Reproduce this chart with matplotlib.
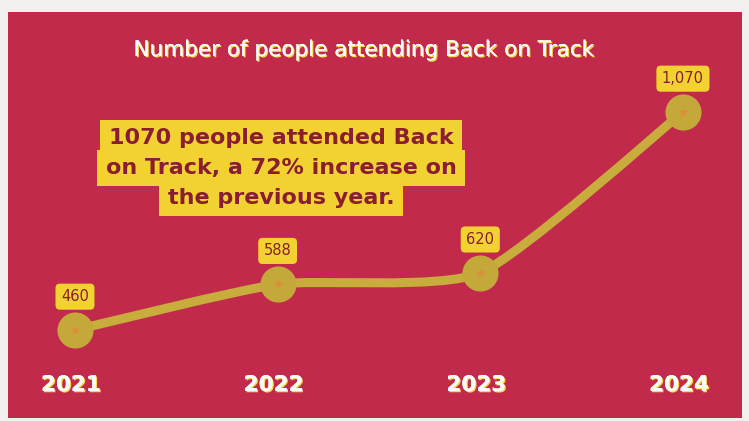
#!/usr/bin/env python3
"""Attendance line chart for Back on Track, 2021-2024."""

import matplotlib

matplotlib.use("Agg")
import matplotlib.pyplot as plt
import matplotlib.patheffects as pe
import numpy as np
from matplotlib.path import Path
from matplotlib.patches import PathPatch, Rectangle

YEARS = [2021, 2022, 2023, 2024]
ATTENDANCE = [460, 588, 620, 1070]
VALUE_LABELS = ["460", "588", "620", "1,070"]

TITLE = "Number of people attending Back on Track"
CALLOUT_LINES = [
    "1070 people attended Back",
    "on Track, a 72% increase on",
    "the previous year.",
]

RED = "#C22A4C"
YELLOW = "#F2D230"
OLIVE = "#C8AC3C"
MAROON = "#8A1D30"
FONT = ["DejaVu Sans"]


def smooth_path(xs, ys, k=0.1):
    # catmull-rom style bezier through the data points
    pts = np.column_stack([xs, ys]).astype(float)
    n = len(pts)
    verts = [pts[0]]
    codes = [Path.MOVETO]
    for i in range(n - 1):
        p_prev = pts[max(i - 1, 0)]
        p0 = pts[i]
        p1 = pts[i + 1]
        p_next = pts[min(i + 2, n - 1)]
        c1 = p0 + (p1 - p_prev) * k
        c2 = p1 - (p_next - p0) * k
        verts += [c1, c2, p1]
        codes += [Path.CURVE4] * 3
    return Path(verts, codes)


def main():
    fig = plt.figure(figsize=(7.49, 4.21), dpi=100)
    fig.patch.set_facecolor("#F3F1EE")
    ax = fig.add_axes([0, 0, 1, 1])
    ax.set_xlim(2020.630, 2024.326)
    ax.set_ylim(205.4, 1383.4)
    ax.axis("off")

    ax.add_patch(Rectangle((8 / 749, 3 / 421), 734 / 749, 406 / 421,
                           transform=ax.transAxes, facecolor=RED,
                           edgecolor="none", zorder=0))

    glow = [pe.withSimplePatchShadow(offset=(0.9, -0.9), shadow_rgbFace="#F5DC4A", alpha=1.0),
            pe.Normal()]

    ax.text(364 / 749, 1 - 50 / 421, TITLE, transform=ax.transAxes,
            ha="center", va="center", fontsize=15.5, color="white",
            family=FONT, path_effects=glow)

    line = PathPatch(smooth_path(YEARS, ATTENDANCE), facecolor="none",
                     edgecolor=OLIVE, linewidth=6.5, capstyle="round", zorder=2)
    ax.add_patch(line)
    ax.plot(YEARS, ATTENDANCE, "o", markersize=26, color="#C4A83A",
            markeredgecolor="none", zorder=3)
    ax.plot(YEARS, ATTENDANCE, "*", markersize=7, color="#E08A3A",
            alpha=0.8, markeredgecolor="none", zorder=4)

    for x, y, label in zip(YEARS, ATTENDANCE, VALUE_LABELS):
        ax.annotate(label, (x, y), xytext=(0, 24), textcoords="offset points",
                    ha="center", va="center", fontsize=10.5, color=MAROON,
                    family=FONT, zorder=5,
                    bbox=dict(boxstyle="round,pad=0.38,rounding_size=0.3",
                              facecolor=YELLOW, edgecolor="none"))

    for x in YEARS:
        ax.text(x - 0.02, 205.4 + 36 / 0.3574, str(x), ha="center", va="center",
                fontsize=15.5, fontweight="bold", color="white", family=FONT,
                path_effects=glow, zorder=5)

    for i, txt in enumerate(CALLOUT_LINES):
        ax.text(281 / 749, 1 - (138 + 30 * i) / 421, txt, transform=ax.transAxes,
                ha="center", va="center", fontsize=16, fontweight="bold",
                color=MAROON, family=FONT, zorder=6,
                bbox=dict(boxstyle="square,pad=0.38", facecolor=YELLOW,
                          edgecolor="none"))

    fig.savefig("out.png", dpi=100, facecolor=fig.get_facecolor())
    plt.close(fig)


if __name__ == "__main__":
    main()
